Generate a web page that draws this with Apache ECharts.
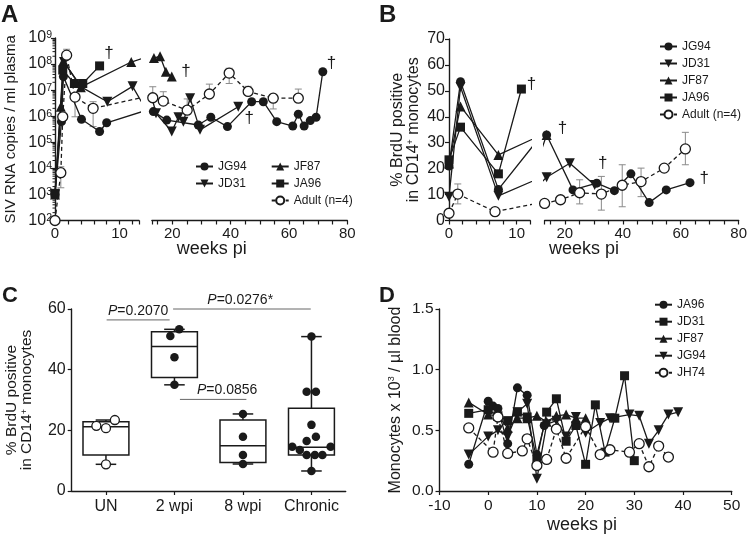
<!DOCTYPE html>
<html><head><meta charset="utf-8">
<script src="https://cdn.jsdelivr.net/npm/echarts@6/dist/echarts.min.js"></script>
<style>html,body{margin:0;padding:0;background:#fff}#c{width:750px;height:538px}</style>
</head><body><div id="c"></div>
<script>
// ================= DATA =================
// Panel A : SIV RNA copies / ml plasma  ([weeks pi, copies])
const A_JG94 = [[0,1e3],[1,6.2e5],[1.3,3.3e7],[4.1,7.6e5],[6.9,2.6e5],[8,5.6e5],[13.5,1.5e6],[18.1,7.1e5],[28.9,4.6e5],[33.2,9.1e5],[38.9,4e5],[47.2,3.6e6],[51.2,3.6e6],[55.8,6.2e5],[61.3,4.2e5],[63.2,1.2e6],[65.2,4.2e5],[67.3,6.8e5],[69.3,9.1e5],[71.6,5.1e7]];
const A_JD31 = [[0,1e3],[1.4,1.2e8],[4.1,1.3e7],[8.1,3.6e6],[12,1.4e7],[14.4,1.3e6],[19.8,2.6e5],[22.1,9.1e5],[23.8,6.2e5],[26.1,4.9e6],[29.5,3e5],[42.6,2.3e6]];
const A_JF87 = [[0,1e3],[0.9,2.3e6],[1.3,1.3e8],[4,1.3e7],[11.8,1.2e8],[13.7,1.7e8],[15.8,2e8],[17.8,5.1e7],[19.8,3.3e7]];
const A_JA96 = [[0,1.1e3],[1.2,5.9e7],[3,1.8e7],[4.3,1.8e7],[6.9,8.5e7]];
const A_Adult = [[0,1e2],[0.9,6.8e3],[1.2,9.5e5],[1.8,2.2e8],[3.1,5.4e6],[5.9,2e6],[13.3,5.1e6],[16.9,3.8e6],[25.1,1.7e6],[32.7,7.1e6],[39.5,4.5e7],[46,8.9e6],[54.6,4.9e6],[63.2,4.9e6]];
const A_AdultErr = [[0.9,1.8e3,1.15e4],[1.8,2.2e8,3.7e8],[3.1,9.5e5,5.4e6],[5.9,4e5,3.6e6],[13.3,5.1e6,1.35e7],[16.9,3.8e6,8.7e6],[25.1,1.7e6,4.6e6],[32.7,7.1e6,1.7e7],[39.5,1.8e7,6.9e7],[46,8.9e6,1.4e7],[54.6,1.9e6,6.9e6],[63.2,4.9e6,1.1e7]];
const A_daggers = [[8.35,2.6e8],[24.7,5.1e7],[46.4,8.3e5],[74.6,1.07e8]];

// Panel B : % BrdU positive in CD14+ monocytes
const B_JG94 = [[0,21],[1.7,53.5],[7.3,12],[13.7,33],[22.8,11.8],[31,14.4],[37.1,11.5],[42.8,18],[49.1,6.9],[55,11.8],[63.2,14.6]];
const B_JD31 = [[0,9.2],[1.7,51.5],[7.3,9.5],[13.7,16.7],[21.7,22.1],[30.3,13.7]];
const B_JF87 = [[0,22],[1.7,44],[7.3,25.3],[13.7,33]];
const B_JA96 = [[0,23.4],[1.7,36],[7.3,18],[10.7,50.7]];
const B_Adult = [[0,2.8],[1.3,10.2],[6.8,3.4],[13,6.6],[18.5,8],[25.1,10.7],[32.6,10.2],[39.8,13.6],[46.3,15],[54.3,20.2],[61.6,27.6]];
const B_AdultErr = [[1.3,6.4,14.1],[6.8,2,4.8],[25.1,6.4,15.7],[32.6,4,17],[39.8,5.3,21.5],[46.3,9.2,20.2],[61.6,21.5,34]];
const B_daggers = [[12.2,52.4],[19.2,35.7],[33.1,22.1],[68.1,16.4]];

// Panel C : box plots
const C_categories = ['UN','2 wpi','8 wpi','Chronic'];
const C_boxStats = [[8.8,11.9,21.2,22.8,23.4],[35,37.4,47.6,52.5,53.3],[8.9,9.4,14.9,23.4,25.4],[6.6,11.9,14.4,27.3,50.9]]; // min,q1,median,q3,max
const C_UN = [21.5,20.7,23.4,8.8];
const C_UN_jitter = [-0.14,0,0.13,0];
const C_2wpi = [53.3,51.1,44.1,35];
const C_2wpi_jitter = [0.07,-0.06,0,0];
const C_8wpi = [25.4,17.9,11.9,8.9];
const C_8wpi_jitter = [0,0,0,0];
const C_chronic = [50.9,32.7,32.7,21.8,17.9,16.5,14.6,14.6,13.5,11.9,11.9,11.9,6.6];
const C_chronic_jitter = [0,-0.07,0.065,0,0.065,-0.07,-0.28,0.28,-0.17,-0.07,0.05,0.16,0];
const C_pLabels = ['=0.2070','=0.0276*','=0.0856'];
const C_pFrom = [0.01,0.98,1.08];
const C_pTo = [0.93,2.99,2.05];
const C_pLevel = [56.4,60,30.2];
const C_pTextX = [0.47,1.96,1.77];

// Panel D : Monocytes x 10^3 / ul blood
const D_JA96 = [[-4,0.22],[0,0.74],[1,0.70],[2,0.68],[4,0.39],[6,0.85],[8,0.79],[10,0.30],[11.5,0.54]];
const D_JD31 = [[-4,0.64],[0,0.67],[2,0.62],[4,0.58],[6,0.65],[8,0.61],[10,0.26],[12,0.65],[14,0.76],[16,0.41],[18,0.54],[20,0.22],[22,0.71],[24,0.32],[26,0.60],[28,0.95],[30,0.25]];
const D_JF87 = [[-4,0.73],[0,0.63],[2,0.62],[4,0.52],[6,0.60],[8,0.60],[10,0.62],[12,0.57],[14,0.62],[16,0.63],[18,0.60],[20,0.60]];
const D_JG94 = [[-4,0.30],[0,0.45],[2,0.50],[4,0.45],[6,0.65],[8,0.72],[10,0.10],[12,0.55],[14,0.58],[16,0.45],[18,0.61],[20,0.48],[23,0.56],[25,0.60],[29,0.63],[31,0.62],[33,0.39],[35,0.50],[37,0.63],[39,0.65]];
const D_JH74 = [[-4,0.52],[1,0.32],[2,0.61],[4,0.31],[7,0.33],[8,0.43],[10,0.21],[12,0.26],[14,0.51],[16,0.27],[20,0.53],[23,0.30],[25,0.34],[29,0.32],[31,0.39],[33,0.20],[35,0.37],[37,0.28]];

// ================= STYLE =================
const FONT = '"Liberation Sans", Arial, Helvetica, sans-serif';
const INK = '#1a1a1a';
const GREY = '#8a8a8a';

const MK = {
  circle: {symbol:'circle', symbolSize:9, itemStyle:{color:INK, opacity:1}},
  down:   {symbol:'triangle', symbolSize:10, symbolRotate:180, itemStyle:{color:INK, opacity:1}},
  up:     {symbol:'triangle', symbolSize:10, itemStyle:{color:INK, opacity:1}},
  square: {symbol:'rect', symbolSize:9, itemStyle:{color:INK, opacity:1}},
  open:   {symbol:'circle', symbolSize:10, itemStyle:{color:'#fff', borderColor:INK, borderWidth:1.3, opacity:1}}
};

function line(name, data, xi, yi, mk, dashed) {
  return Object.assign({
    type:'line', name, data, xAxisIndex:xi, yAxisIndex:yi,
    showSymbol:true, clip:true, animation:false, z:3,
    lineStyle:{color:INK, width:1.3, type: dashed ? [4,3] : 'solid'}
  }, JSON.parse(JSON.stringify(mk)));
}

function errRender(params, api) {
  const x = api.value(0);
  const pl = api.coord([x, api.value(1)]);
  const ph = api.coord([x, api.value(2)]);
  const st = {stroke:GREY, lineWidth:1};
  const cw = 3.5;
  return {type:'group', children:[
    {type:'line', shape:{x1:pl[0],y1:pl[1],x2:ph[0],y2:ph[1]}, style:st},
    {type:'line', shape:{x1:ph[0]-cw,y1:ph[1],x2:ph[0]+cw,y2:ph[1]}, style:st},
    {type:'line', shape:{x1:pl[0]-cw,y1:pl[1],x2:pl[0]+cw,y2:pl[1]}, style:st}
  ]};
}
function errSeries(data, xi, yi) {
  return {type:'custom', data, xAxisIndex:xi, yAxisIndex:yi, renderItem:errRender, encode:{x:0,y:[1,2]}, z:1, silent:true, animation:false};
}
function daggerSeries(data, xi, yi) {
  return {type:'custom', data, xAxisIndex:xi, yAxisIndex:yi, z:4, silent:true, animation:false,
    renderItem:(p, api) => { const c = api.coord([api.value(0), api.value(1)]);
      return {type:'text', x:c[0], y:c[1], style:{text:'\u2020', fontSize:17, fontFamily:FONT, fill:INK, align:'center', verticalAlign:'middle'}}; }};
}

const axLine = {show:true, onZero:false, lineStyle:{color:INK, width:1.4}};
const axTick = {show:true, length:4, lineStyle:{color:INK, width:1.2}};
const noSplit = {show:false};

// minor ticks for log axis (decoration)
const A_minorLog = [];
for (let d = 2; d < 9; d++) for (let m = 2; m < 10; m++) A_minorLog.push(m * Math.pow(10, d));

const grids = [
  {left:55, top:38, width:84, height:182.5},      // A1
  {left:151.9, top:38, width:195.4, height:182.5},// A2
  {left:449, top:39, width:81.2, height:181.5},   // B1
  {left:544.6, top:39, width:195.6, height:181.5},// B2
  {left:71.7, top:309, width:274, height:182},    // C
  {left:439.5, top:309, width:292.2, height:182}  // D
];

const segLab1 = v => (v === 0 || v === 10) ? String(v) : '';
const segLab2 = v => (v % 20 === 0) ? String(v) : '';
const xLab = {fontSize:15, color:INK, margin:6};

const xAxes = [
  {type:'value', gridIndex:0, min:0, max:13, interval:2, axisLine:axLine, axisTick:axTick, splitLine:noSplit, axisLabel:Object.assign({formatter:segLab1}, xLab)},
  {type:'value', gridIndex:1, min:13, max:80, splitNumber:13, axisLine:axLine, axisTick:axTick, splitLine:noSplit, axisLabel:Object.assign({formatter:segLab2}, xLab)},
  {type:'value', gridIndex:2, min:0, max:12, interval:2, axisLine:axLine, axisTick:axTick, splitLine:noSplit, axisLabel:Object.assign({formatter:segLab1}, xLab)},
  {type:'value', gridIndex:3, min:13, max:80, splitNumber:13, axisLine:axLine, axisTick:axTick, splitLine:noSplit, axisLabel:Object.assign({formatter:segLab2}, xLab)},
  {type:'category', gridIndex:4, data:C_categories, axisLine:axLine, axisTick:Object.assign({alignWithLabel:true, interval:0}, axTick), splitLine:noSplit, axisLabel:{fontSize:16, color:INK, margin:8, interval:0}},
  {type:'value', gridIndex:4, min:-0.5, max:3.5, show:false},
  {type:'value', gridIndex:5, min:-10, max:50, interval:10, axisLine:axLine, axisTick:axTick, splitLine:noSplit, axisLabel:{fontSize:15.5, color:INK, margin:7}}
];

const yAxes = [
  {type:'log', logBase:10, gridIndex:0, min:100, max:1e9, axisLine:axLine, axisTick:axTick, splitLine:noSplit,
   axisLabel:{margin:3, color:INK, formatter:v => '{b|10}{s|' + Math.round(Math.log10(v)) + '}',
     rich:{b:{fontSize:16, color:INK, fontFamily:FONT}, s:{fontSize:10.5, color:INK, verticalAlign:'top', fontFamily:FONT}}},
   name:'SIV RNA copies / ml plasma', nameLocation:'middle', nameGap:37, nameTextStyle:{fontSize:15, color:INK}},
  {type:'log', logBase:10, gridIndex:1, min:100, max:1e9, show:false},
  {type:'value', gridIndex:2, min:0, max:70, interval:10, axisLine:axLine, axisTick:axTick, splitLine:noSplit,
   axisLabel:{fontSize:16, color:INK, margin:4},
   name:'% BrdU positive\nin CD14{s|+} monocytes', nameLocation:'middle', nameGap:27,
   nameTextStyle:{fontSize:16, color:INK, lineHeight:16, rich:{s:{fontSize:9, verticalAlign:'top', lineHeight:16, color:INK}}}},
  {type:'value', gridIndex:3, min:0, max:70, show:false},
  {type:'value', gridIndex:4, min:0, max:60, interval:20, axisLine:axLine, axisTick:axTick, splitLine:noSplit,
   axisLabel:{fontSize:16, color:INK, margin:6},
   name:'% BrdU positive\nin CD14{s|+} monocytes', nameLocation:'middle', nameGap:37,
   nameTextStyle:{fontSize:15.5, color:INK, lineHeight:15, rich:{s:{fontSize:9, verticalAlign:'top', lineHeight:15, color:INK}}}},
  {type:'value', gridIndex:5, min:0, max:1.5, interval:0.5, axisLine:axLine, axisTick:axTick, splitLine:noSplit,
   axisLabel:{fontSize:15.5, color:INK, margin:6, formatter:v => v.toFixed(1)},
   name:'Monocytes x 10{s|3} / \u00b5l blood', nameLocation:'middle', nameGap:36,
   nameTextStyle:{fontSize:16, color:INK, rich:{s:{fontSize:9, verticalAlign:'top', color:INK}}}}
];

const series = [];
// Panel A (two segments)
[[0,0],[1,1]].forEach(([xi, yi]) => {
  series.push(line('JG94', A_JG94, xi, yi, MK.circle));
  series.push(line('JD31', A_JD31, xi, yi, MK.down));
  series.push(line('JF87', A_JF87, xi, yi, MK.up));
  series.push(line('JA96', A_JA96, xi, yi, MK.square));
  series.push(line('Adult (n=4)', A_Adult, xi, yi, MK.open, true));
});
series.push(errSeries(A_AdultErr.filter(d => d[0] <= 13), 0, 0));
series.push(errSeries(A_AdultErr.filter(d => d[0] > 13), 1, 1));
series.push(daggerSeries(A_daggers.filter(d => d[0] <= 13), 0, 0));
series.push(daggerSeries(A_daggers.filter(d => d[0] > 13), 1, 1));
series.push({type:'custom', data:A_minorLog.map(v => [0, v]), xAxisIndex:0, yAxisIndex:0, silent:true, animation:false, z:2,
  renderItem:(p, api) => { const c = api.coord([0, api.value(1)]);
    return {type:'line', shape:{x1:c[0]-2.5, y1:c[1], x2:c[0], y2:c[1]}, style:{stroke:INK, lineWidth:1}}; }});

// Panel B (two segments)
[[2,2],[3,3]].forEach(([xi, yi]) => {
  series.push(line('JG94', B_JG94, xi, yi, MK.circle));
  series.push(line('JD31', B_JD31, xi, yi, MK.down));
  series.push(line('JF87', B_JF87, xi, yi, MK.up));
  series.push(line('JA96', B_JA96, xi, yi, MK.square));
  series.push(line('Adult (n=4)', B_Adult, xi, yi, MK.open, true));
});
series.push(errSeries(B_AdultErr.filter(d => d[0] <= 12), 2, 2));
series.push(errSeries(B_AdultErr.filter(d => d[0] > 12), 3, 3));
series.push(daggerSeries(B_daggers.filter(d => d[0] <= 12.5), 2, 2));
series.push(daggerSeries(B_daggers.filter(d => d[0] > 12.5), 3, 3));

// Panel C
series.push({type:'custom', data:C_boxStats.map((s, i) => [i].concat(s)), xAxisIndex:4, yAxisIndex:4, silent:true, animation:false, z:2,
  renderItem:(p, api) => {
    const i = api.value(0);
    const band = api.size([1, 0])[0];
    const bw = band * 0.335, cw = band * 0.15;
    const yy = v => api.coord([i, v])[1];
    const x = api.coord([i, api.value(3)])[0];
    const st = {stroke:INK, lineWidth:1.5, fill:null};
    const mn = yy(api.value(1)), q1 = yy(api.value(2)), md = yy(api.value(3)), q3 = yy(api.value(4)), mx = yy(api.value(5));
    return {type:'group', children:[
      {type:'rect', shape:{x:x-bw, y:q3, width:2*bw, height:q1-q3}, style:st},
      {type:'line', shape:{x1:x-bw, y1:md, x2:x+bw, y2:md}, style:st},
      {type:'line', shape:{x1:x, y1:q3, x2:x, y2:mx}, style:st},
      {type:'line', shape:{x1:x, y1:q1, x2:x, y2:mn}, style:st},
      {type:'line', shape:{x1:x-cw, y1:mx, x2:x+cw, y2:mx}, style:st},
      {type:'line', shape:{x1:x-cw, y1:mn, x2:x+cw, y2:mn}, style:st}
    ]};
  }});
series.push({type:'scatter', xAxisIndex:5, yAxisIndex:4, symbol:'circle', symbolSize:9, z:3, animation:false, silent:true,
  itemStyle:{color:'#fff', borderColor:INK, borderWidth:1.3, opacity:1},
  data:C_UN.map((v, k) => [0 + C_UN_jitter[k], v])});
series.push({type:'scatter', xAxisIndex:5, yAxisIndex:4, symbol:'circle', symbolSize:8.5, z:3, animation:false, silent:true,
  itemStyle:{color:INK, opacity:1},
  data:[].concat(
    C_2wpi.map((v, k) => [1 + C_2wpi_jitter[k], v]),
    C_8wpi.map((v, k) => [2 + C_8wpi_jitter[k], v]),
    C_chronic.map((v, k) => [3 + C_chronic_jitter[k], v]))});
series.push({type:'custom', xAxisIndex:5, yAxisIndex:4, silent:true, animation:false, z:2,
  data:C_pLevel.map((v, k) => [C_pFrom[k], v]),
  renderItem:(p, api) => {
    const k = p.dataIndex;
    const a = api.coord([C_pFrom[k], C_pLevel[k]]);
    const b = api.coord([C_pTo[k], C_pLevel[k]]);
    const t = api.coord([C_pTextX[k], C_pLevel[k]]);
    return {type:'group', children:[
      {type:'line', shape:{x1:a[0], y1:a[1], x2:b[0], y2:b[1]}, style:{stroke:'#666', lineWidth:1}},
      {type:'text', x:t[0], y:a[1]-2, style:{text:'{i|P}' + C_pLabels[k], fontSize:14, fontFamily:FONT, fill:INK, align:'center', verticalAlign:'bottom',
        rich:{i:{fontStyle:'italic', fontSize:14, fontFamily:FONT, fill:INK}}}}
    ]};
  }});

// Panel D
series.push(line('D:JA96', D_JA96, 6, 5, MK.circle));
series.push(line('D:JD31', D_JD31, 6, 5, MK.square));
series.push(line('D:JF87', D_JF87, 6, 5, MK.up));
series.push(line('D:JG94', D_JG94, 6, 5, MK.down));
series.push(line('D:JH74', D_JH74, 6, 5, MK.open, true));

const legBase = {orient:'vertical', padding:0, itemWidth:17, itemHeight:10, itemGap:5, selectedMode:false,
  textStyle:{fontSize:12, color:INK, fontFamily:FONT}};

const option = {
  animation:false,
  backgroundColor:'#fff',
  textStyle:{fontFamily:FONT, color:INK},
  title:[
    {text:'A', left:1, top:3, padding:0, textStyle:{fontSize:24, fontWeight:'bold', color:INK, fontFamily:FONT}},
    {text:'B', left:379, top:3, padding:0, textStyle:{fontSize:24, fontWeight:'bold', color:INK, fontFamily:FONT}},
    {text:'C', left:2, top:285, padding:0, textStyle:{fontSize:22, fontWeight:'bold', color:INK, fontFamily:FONT}},
    {text:'D', left:379, top:285, padding:0, textStyle:{fontSize:22, fontWeight:'bold', color:INK, fontFamily:FONT}},
    {text:'weeks pi', left:211.7, top:240, textAlign:'center', padding:0, textStyle:{fontSize:18, fontWeight:'normal', color:INK, fontFamily:FONT}},
    {text:'weeks pi', left:584, top:240, textAlign:'center', padding:0, textStyle:{fontSize:18, fontWeight:'normal', color:INK, fontFamily:FONT}},
    {text:'weeks pi', left:582, top:516, textAlign:'center', padding:0, textStyle:{fontSize:18, fontWeight:'normal', color:INK, fontFamily:FONT}}
  ],
  legend:[
    Object.assign({left:195, top:160.5, data:['JG94','JD31']}, legBase),
    Object.assign({left:270.7, top:160.5, data:['JF87','JA96','Adult (n=4)']}, legBase),
    Object.assign({left:659, top:40.5, data:['JG94','JD31','JF87','JA96','Adult (n=4)']}, legBase),
    Object.assign({left:654, top:298.7, data:['D:JA96','D:JD31','D:JF87','D:JG94','D:JH74'], formatter:n => n.replace('D:','')}, legBase)
  ],
  grid:grids,
  xAxis:xAxes,
  yAxis:yAxes,
  series
};

const chart = echarts.init(document.getElementById('c'), null, {renderer:'canvas', width:750, height:538});
chart.setOption(option);
</script>
</body></html>
